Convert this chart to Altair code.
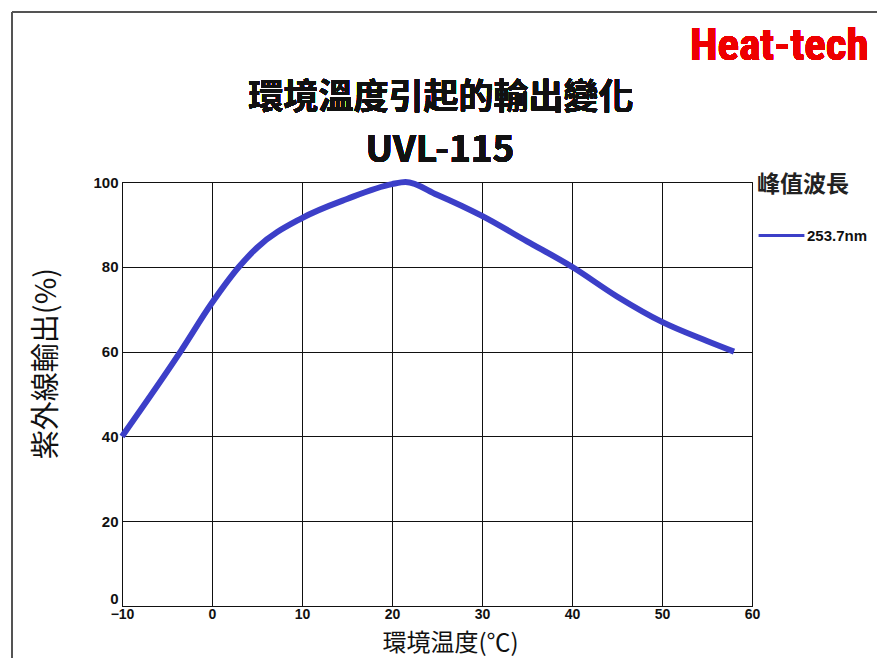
import altair as alt
import pandas as pd

temps = [-10, -3.5, 0, 3, 5, 10, 15, 20, 21.5, 25, 30, 35, 40, 45, 50, 55, 58]
output = [40, 60, 71.5, 80, 84.5, 91.5, 96, 99.5, 100, 97, 92, 86, 80, 73, 67, 62.5, 60]
series = "253.7nm"

title_text = "環境溫度引起的輸出變化"
subtitle_text = "UVL-115"
brand_text = "Heat-tech"

df = pd.DataFrame({"temp": temps, "out": output, "series": [series] * len(temps)})

PAD_L, PAD_T = 114, 174
W, H = 630, 424
OX, OY = 8 + PAD_L, 8 + PAD_T  # page position of plot origin

label_font = "Liberation Sans"
cjk = "Noto Sans CJK JP"
cjk_tc = "Noto Sans CJK TC"

line = alt.Chart(df).mark_line(strokeWidth=6, interpolate="monotone", clip=False).encode(
    x=alt.X("temp:Q", scale=alt.Scale(domain=[-10, 60], nice=False),
            axis=alt.Axis(values=[-10, 0, 10, 20, 30, 40, 50, 60], title="環境温度(℃)",
                          labelFlush=False,
                          titleX=328, titleY=37, titleBaseline="middle", titleAlign="center")),
    y=alt.Y("out:Q", scale=alt.Scale(domain=[0, 100], nice=False),
            axis=alt.Axis(values=[0, 20, 40, 60, 80, 100], title="紫外線輸出(%)",
                          labelFlush=False,
                          labelBaseline={"condition": {"test": "datum.value == 0", "value": "bottom"},
                                         "value": "middle"},
                          titleX=-76, titleY=181, titleAngle=-90, titleBaseline="middle",
                          titleAlign="center")),
    color=alt.Color("series:N", scale=alt.Scale(domain=[series], range=["#3c3fc8"]),
                    legend=alt.Legend(title="峰值波長", orient="none", legendX=W + 5, legendY=-8,
                                      symbolType="stroke", symbolSize=2100, symbolStrokeWidth=3,
                                      titleFont=cjk_tc, titleFontSize=23, titleFontWeight="bold",
                                      titleColor="#222", titlePadding=14,
                                      labelFont=label_font, labelFontSize=15, labelFontWeight="bold",
                                      labelColor="#111", labelOffset=1)),
)

brand = alt.Chart(df).mark_text(
    text=brand_text, font="'Roboto Condensed', 'Liberation Sans Narrow', 'DejaVu Sans Condensed', Roboto, sans-serif",
    fontSize=45, fontWeight="bold", color="#ee0000", align="left", baseline="alphabetic"
).encode(x=alt.value(690 - OX), y=alt.value(60 - OY))

title = alt.Chart(df).mark_text(
    text=title_text, font=cjk_tc, fontSize=35, fontWeight="bold", color="#111",
    align="center", baseline="middle"
).encode(x=alt.value(441 - OX), y=alt.value(98 - OY))

subtitle = alt.Chart(df).mark_text(
    text=subtitle_text, font=cjk, fontSize=37, fontWeight="bold", color="#111",
    align="center", baseline="middle"
).encode(x=alt.value(440 - OX), y=alt.value(151 - OY))

frame_left = alt.Chart(df).mark_rule(color="#555", strokeWidth=1).encode(
    x=alt.value(12 - OX), y=alt.value(12 - OY), y2=alt.value(700))
frame_top = alt.Chart(df).mark_rule(color="#555", strokeWidth=1).encode(
    x=alt.value(12 - OX), x2=alt.value(900), y=alt.value(12 - OY))

chart = alt.layer(frame_left, frame_top, line, brand, title, subtitle).properties(
    width=W, height=H,
    autosize=alt.AutoSizeParams(type="none"),
    padding={"left": PAD_L, "top": PAD_T, "right": 125, "bottom": 52},
).configure_view(stroke="#111", strokeWidth=1).configure_axis(
    grid=True, gridColor="#111", gridOpacity=1, gridWidth=1,
    domainColor="#111", domainWidth=1, ticks=False,
    labelFont=label_font, labelFontSize=15, labelFontWeight="bold", labelColor="#111",
    titleFont=cjk, titleFontSize=24, titleFontWeight="normal", titleColor="#111",
).configure_axisY(labelPadding=4, titleFontSize=29).configure_axisX(labelPadding=1, labelFontSize=14)

chart.save("out.html", embed_options={"renderer": "svg", "actions": False})
